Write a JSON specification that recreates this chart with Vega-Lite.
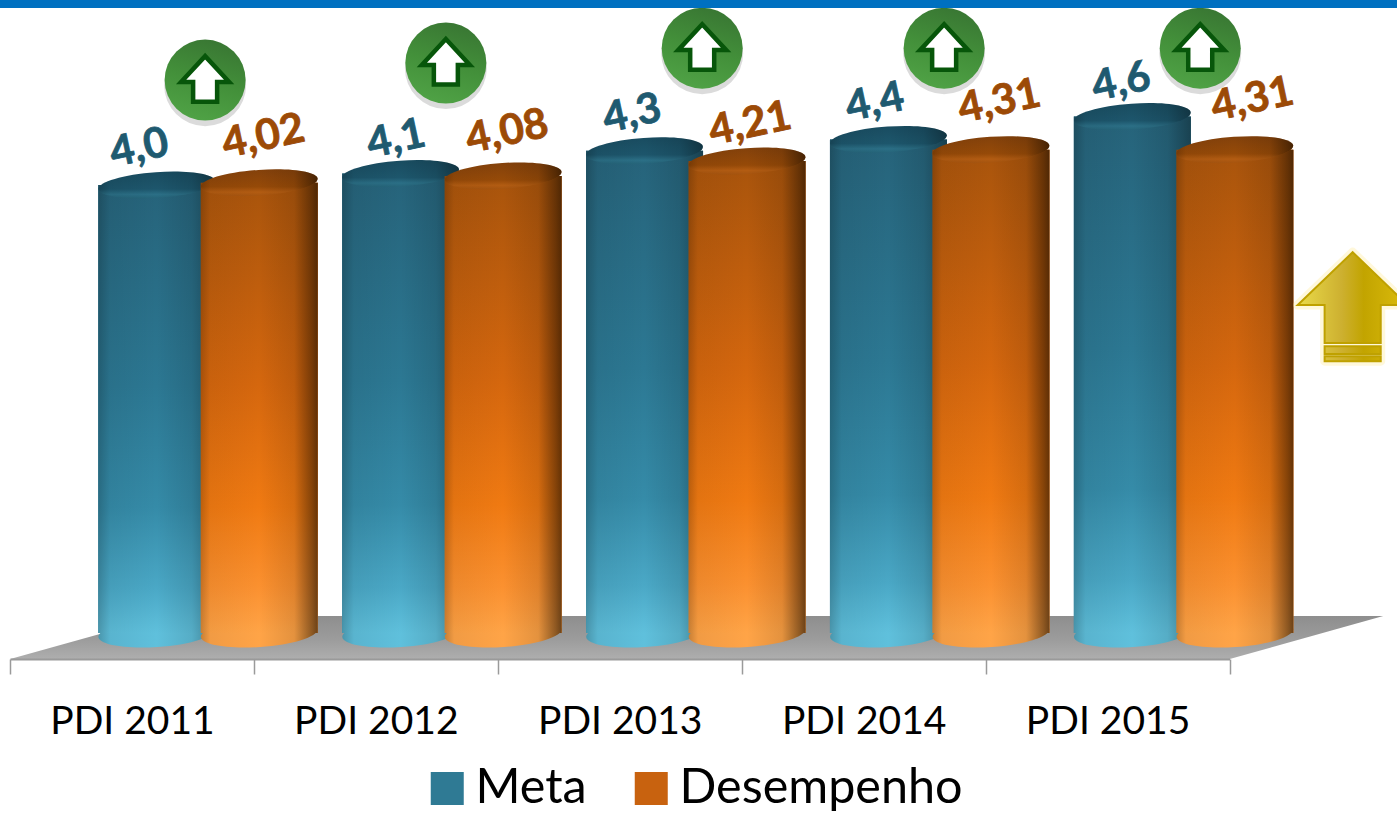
{
"$schema":"https://vega.github.io/schema/vega-lite/v6.json",
"width":1397,"height":813,"padding":0,"autosize":{"type":"none"},"background":"white",
"config":{"view":{"stroke":null},"font":"Lato"},
"datasets":{
"valores":[
{"ano":"PDI 2011","serie":"Meta","valor":4.0,"rotulo":"4,0"},
{"ano":"PDI 2012","serie":"Meta","valor":4.1,"rotulo":"4,1"},
{"ano":"PDI 2013","serie":"Meta","valor":4.3,"rotulo":"4,3"},
{"ano":"PDI 2014","serie":"Meta","valor":4.4,"rotulo":"4,4"},
{"ano":"PDI 2015","serie":"Meta","valor":4.6,"rotulo":"4,6"},
{"ano":"PDI 2011","serie":"Desempenho","valor":4.02,"rotulo":"4,02"},
{"ano":"PDI 2012","serie":"Desempenho","valor":4.08,"rotulo":"4,08"},
{"ano":"PDI 2013","serie":"Desempenho","valor":4.21,"rotulo":"4,21"},
{"ano":"PDI 2014","serie":"Desempenho","valor":4.31,"rotulo":"4,31"},
{"ano":"PDI 2015","serie":"Desempenho","valor":4.31,"rotulo":"4,31"}
],
"setas":[{"pos":0.8,"nivel":4.92},{"pos":1.787,"nivel":5.07},{"pos":2.838,"nivel":5.2},{"pos":3.83,"nivel":5.2},{"pos":4.88,"nivel":5.2}],
"piso":[{"pos":2.5,"nivel":0}],
"dourada":[{"pos":5.505,"nivel":2.947}],
"base":[
{"ano":"PDI 2011","serie":"Meta"},{"ano":"PDI 2012","serie":"Meta"},{"ano":"PDI 2013","serie":"Meta"},{"ano":"PDI 2014","serie":"Meta"},{"ano":"PDI 2015","serie":"Meta"},
{"ano":"PDI 2011","serie":"Desempenho"},{"ano":"PDI 2012","serie":"Desempenho"},{"ano":"PDI 2013","serie":"Desempenho"},{"ano":"PDI 2014","serie":"Desempenho"},{"ano":"PDI 2015","serie":"Desempenho"}
]
},
"encoding":{"y":{"type":"quantitative","axis":null,"scale":{"domain":[-1.5088,5.6228],"nice":false,"zero":false}}},
"resolve":{"scale":{"x":"independent"},"axis":{"x":"independent"}},
"layer":[
{"data":{"name":"piso"},
 "mark":{"type":"point","filled":true,"opacity":1,"strokeWidth":0,"size":1440000,"shape":"M-0.759,-0.0417L1.2725,-0.0417L1.0167,0.03L-1.0158,0.03Z",
 "fill":{"gradient":"linear","x1":0,"y1":0,"x2":0,"y2":1,"stops":[{"offset":0,"color":"#8e8e8e"},{"offset":0.55,"color":"#9c9c9c"},{"offset":1,"color":"#aeaeae"}]}},
 "encoding":{"x":{"field":"pos","type":"quantitative","axis":null,"scale":{"domain":[0,5],"range":[10,1229.5],"nice":false,"zero":false}},"y":{"field":"nivel","type":"quantitative"}}},
{"data":{"name":"valores"},
 "mark":{"type":"bar","width":117},
 "encoding":{
 "x":{"field":"ano","type":"nominal","title":null,"scale":{"domain":["PDI 2011","PDI 2012","PDI 2013","PDI 2014","PDI 2015"],"range":[10,1229.5],"paddingInner":0,"paddingOuter":0},
  "axis":{"orient":"bottom","offset":-154,"tickBand":"extent","labelAngle":0,"labelFont":"Lato","labelFontSize":39,"labelColor":"#000000","labelPadding":28,"tickSize":15,"tickColor":"#9a9a9a","tickWidth":1.5,"domainColor":"#9a9a9a","domainWidth":2,"grid":false,"zindex":1}},
 "xOffset":{"field":"serie","type":"nominal","scale":{"domain":["Meta","Desempenho"],"range":[95.5,300.5],"paddingInner":0,"paddingOuter":0}},
 "y":{"field":"valor","type":"quantitative"},"y2":{"datum":0.07},
 "color":{"field":"serie","type":"nominal","scale":{"domain":["Meta","Desempenho"],"range":["#2f7a94","#c8620f"]},
  "legend":{"title":null,"orient":"none","legendX":423,"legendY":764,"direction":"horizontal","columns":2,"columnPadding":40,"symbolType":"square","symbolSize":1089,"symbolStrokeWidth":0,"labelFont":"Lato","labelFontSize":48.5,"labelColor":"#000000","labelOffset":4,"labelLimit":500,"symbolOpacity":1}}}},
{"data":{"name":"base"},"transform":[{"filter":"datum.serie=='Meta'"}],
 "mark":{"type":"point","filled":true,"opacity":1,"strokeWidth":0,"size":13689,"shape":"M-0.9976,0.07A1,0.24,-4,1,0,0.9976,-0.07A1,0.24,-4,1,0,-0.9976,0.07Z",
 "fill":{"gradient":"linear","x1":0,"y1":0,"x2":1,"y2":0,"stops":[{"offset":0,"color":"#4a96ac"},{"offset":0.1,"color":"#59b4cf"},{"offset":0.5,"color":"#5fc0dc"},{"offset":0.8,"color":"#56adc6"},{"offset":1,"color":"#3e7d8f"}]}},
 "encoding":{"x":{"field":"ano","type":"nominal","axis":null,"scale":{"domain":["PDI 2011","PDI 2012","PDI 2013","PDI 2014","PDI 2015"],"range":[10,1229.5],"paddingInner":0,"paddingOuter":0}},"xOffset":{"field":"serie","type":"nominal"},"y":{"datum":0.07}}},
{"data":{"name":"valores"},"transform":[{"filter":"datum.serie=='Meta'"}],
 "mark":{"type":"bar","width":117,
 "fill":{"gradient":"linear","x1":0,"y1":0,"x2":0,"y2":1,"stops":[{"offset":0,"color":"#26637a"},{"offset":0.45,"color":"#2c7893"},{"offset":0.72,"color":"#358ba8"},{"offset":0.9,"color":"#4aa8c6"},{"offset":1,"color":"#5fc0dc"}]}},
 "encoding":{"x":{"field":"ano","type":"nominal","axis":null,"scale":{"domain":["PDI 2011","PDI 2012","PDI 2013","PDI 2014","PDI 2015"],"range":[10,1229.5],"paddingInner":0,"paddingOuter":0}},"xOffset":{"field":"serie","type":"nominal"},"y":{"field":"valor","type":"quantitative"},"y2":{"datum":0.07}}},
{"data":{"name":"valores"},"transform":[{"filter":"datum.serie=='Meta'"}],
 "mark":{"type":"bar","width":117,
 "fill":{"gradient":"linear","x1":0,"y1":0,"x2":1,"y2":0,"stops":[{"offset":0,"color":"rgba(0,0,0,0.22)"},{"offset":0.1,"color":"rgba(0,0,0,0.06)"},{"offset":0.5,"color":"rgba(0,0,0,0)"},{"offset":0.8,"color":"rgba(0,0,0,0.1)"},{"offset":1,"color":"rgba(0,0,0,0.35)"}]}},
 "encoding":{"x":{"field":"ano","type":"nominal","axis":null,"scale":{"domain":["PDI 2011","PDI 2012","PDI 2013","PDI 2014","PDI 2015"],"range":[10,1229.5],"paddingInner":0,"paddingOuter":0}},"xOffset":{"field":"serie","type":"nominal"},"y":{"field":"valor","type":"quantitative"},"y2":{"datum":0.07}}},
{"data":{"name":"valores"},"transform":[{"filter":"datum.serie=='Meta'"}],
 "mark":{"type":"point","filled":true,"opacity":1,"strokeWidth":0,"size":13689,"shape":"M-0.9976,0.07A1,0.22,-4,1,1,0.9976,-0.07A1,0.22,-4,1,1,-0.9976,0.07Z",
 "fill":{"gradient":"linear","x1":0,"y1":0,"x2":0,"y2":1,"stops":[{"offset":0,"color":"#194c60"},{"offset":0.65,"color":"#1d566c"},{"offset":0.85,"color":"#2b6f86"},{"offset":1,"color":"#256479"}]}},
 "encoding":{"x":{"field":"ano","type":"nominal","axis":null,"scale":{"domain":["PDI 2011","PDI 2012","PDI 2013","PDI 2014","PDI 2015"],"range":[10,1229.5],"paddingInner":0,"paddingOuter":0}},"xOffset":{"field":"serie","type":"nominal"},"y":{"field":"valor","type":"quantitative"}}},
{"data":{"name":"valores"},"transform":[{"filter":"datum.serie=='Meta'"}],
 "mark":{"type":"point","filled":true,"opacity":1,"strokeWidth":0,"size":13689,"shape":"M-0.9976,0.07A1,0.22,-4,1,1,0.9976,-0.07A1,0.22,-4,1,1,-0.9976,0.07Z",
 "fill":{"gradient":"linear","x1":0,"y1":0,"x2":1,"y2":0,"stops":[{"offset":0,"color":"rgba(0,0,0,0.22)"},{"offset":0.1,"color":"rgba(0,0,0,0.06)"},{"offset":0.5,"color":"rgba(0,0,0,0)"},{"offset":0.8,"color":"rgba(0,0,0,0.1)"},{"offset":1,"color":"rgba(0,0,0,0.35)"}]}},
 "encoding":{"x":{"field":"ano","type":"nominal","axis":null,"scale":{"domain":["PDI 2011","PDI 2012","PDI 2013","PDI 2014","PDI 2015"],"range":[10,1229.5],"paddingInner":0,"paddingOuter":0}},"xOffset":{"field":"serie","type":"nominal"},"y":{"field":"valor","type":"quantitative"}}},
{"data":{"name":"base"},"transform":[{"filter":"datum.serie=='Desempenho'"}],
 "mark":{"type":"point","filled":true,"opacity":1,"strokeWidth":0,"size":13689,"shape":"M-0.9976,0.07A1,0.24,-4,1,0,0.9976,-0.07A1,0.24,-4,1,0,-0.9976,0.07Z",
 "fill":{"gradient":"linear","x1":0,"y1":0,"x2":1,"y2":0,"stops":[{"offset":0,"color":"#c77f35"},{"offset":0.08,"color":"#f19b44"},{"offset":0.5,"color":"#ffa447"},{"offset":0.8,"color":"#e4923e"},{"offset":0.95,"color":"#8e5a23"},{"offset":1,"color":"#6d4319"}]}},
 "encoding":{"x":{"field":"ano","type":"nominal","axis":null,"scale":{"domain":["PDI 2011","PDI 2012","PDI 2013","PDI 2014","PDI 2015"],"range":[10,1229.5],"paddingInner":0,"paddingOuter":0}},"xOffset":{"field":"serie","type":"nominal"},"y":{"datum":0.07}}},
{"data":{"name":"valores"},"transform":[{"filter":"datum.serie=='Desempenho'"}],
 "mark":{"type":"bar","width":117,
 "fill":{"gradient":"linear","x1":0,"y1":0,"x2":0,"y2":1,"stops":[{"offset":0,"color":"#a8540c"},{"offset":0.45,"color":"#d5670e"},{"offset":0.72,"color":"#f07a12"},{"offset":0.9,"color":"#fb9130"},{"offset":1,"color":"#ffa447"}]}},
 "encoding":{"x":{"field":"ano","type":"nominal","axis":null,"scale":{"domain":["PDI 2011","PDI 2012","PDI 2013","PDI 2014","PDI 2015"],"range":[10,1229.5],"paddingInner":0,"paddingOuter":0}},"xOffset":{"field":"serie","type":"nominal"},"y":{"field":"valor","type":"quantitative"},"y2":{"datum":0.07}}},
{"data":{"name":"valores"},"transform":[{"filter":"datum.serie=='Desempenho'"}],
 "mark":{"type":"bar","width":117,
 "fill":{"gradient":"linear","x1":0,"y1":0,"x2":1,"y2":0,"stops":[{"offset":0,"color":"rgba(30,15,0,0.25)"},{"offset":0.08,"color":"rgba(30,15,0,0.06)"},{"offset":0.5,"color":"rgba(30,15,0,0)"},{"offset":0.8,"color":"rgba(30,15,0,0.12)"},{"offset":0.95,"color":"rgba(30,15,0,0.5)"},{"offset":1,"color":"rgba(30,15,0,0.65)"}]}},
 "encoding":{"x":{"field":"ano","type":"nominal","axis":null,"scale":{"domain":["PDI 2011","PDI 2012","PDI 2013","PDI 2014","PDI 2015"],"range":[10,1229.5],"paddingInner":0,"paddingOuter":0}},"xOffset":{"field":"serie","type":"nominal"},"y":{"field":"valor","type":"quantitative"},"y2":{"datum":0.07}}},
{"data":{"name":"valores"},"transform":[{"filter":"datum.serie=='Desempenho'"}],
 "mark":{"type":"point","filled":true,"opacity":1,"strokeWidth":0,"size":13689,"shape":"M-0.9976,0.07A1,0.22,-4,1,1,0.9976,-0.07A1,0.22,-4,1,1,-0.9976,0.07Z",
 "fill":{"gradient":"linear","x1":0,"y1":0,"x2":0,"y2":1,"stops":[{"offset":0,"color":"#83410b"},{"offset":0.65,"color":"#964a08"},{"offset":0.85,"color":"#b35c12"},{"offset":1,"color":"#a5540f"}]}},
 "encoding":{"x":{"field":"ano","type":"nominal","axis":null,"scale":{"domain":["PDI 2011","PDI 2012","PDI 2013","PDI 2014","PDI 2015"],"range":[10,1229.5],"paddingInner":0,"paddingOuter":0}},"xOffset":{"field":"serie","type":"nominal"},"y":{"field":"valor","type":"quantitative"}}},
{"data":{"name":"valores"},"transform":[{"filter":"datum.serie=='Desempenho'"}],
 "mark":{"type":"point","filled":true,"opacity":1,"strokeWidth":0,"size":13689,"shape":"M-0.9976,0.07A1,0.22,-4,1,1,0.9976,-0.07A1,0.22,-4,1,1,-0.9976,0.07Z",
 "fill":{"gradient":"linear","x1":0,"y1":0,"x2":1,"y2":0,"stops":[{"offset":0,"color":"rgba(30,15,0,0.25)"},{"offset":0.08,"color":"rgba(30,15,0,0.06)"},{"offset":0.5,"color":"rgba(30,15,0,0)"},{"offset":0.8,"color":"rgba(30,15,0,0.12)"},{"offset":0.95,"color":"rgba(30,15,0,0.5)"},{"offset":1,"color":"rgba(30,15,0,0.65)"}]}},
 "encoding":{"x":{"field":"ano","type":"nominal","axis":null,"scale":{"domain":["PDI 2011","PDI 2012","PDI 2013","PDI 2014","PDI 2015"],"range":[10,1229.5],"paddingInner":0,"paddingOuter":0}},"xOffset":{"field":"serie","type":"nominal"},"y":{"field":"valor","type":"quantitative"}}},
{"data":{"name":"valores"},"transform":[{"filter":"datum.serie=='Meta'"}],
 "mark":{"type":"text","font":"Lato","fontWeight":"bold","fontSize":42,"angle":348,"align":"center","baseline":"middle","color":"#1f5a70","stroke":"#1f5a70","strokeWidth":0.8,
  "dx":{"expr":"{'PDI 2011':-9.5,'PDI 2012':2.7,'PDI 2013':-4.5,'PDI 2014':-5.5,'PDI 2015':-3.7}[datum.ano]"},
  "dy":{"expr":"{'PDI 2011':-39.7,'PDI 2012':-34.7,'PDI 2013':-38.7,'PDI 2014':-38.9,'PDI 2015':-36}[datum.ano]"}},
 "encoding":{"x":{"field":"ano","type":"nominal","axis":null,"scale":{"domain":["PDI 2011","PDI 2012","PDI 2013","PDI 2014","PDI 2015"],"range":[10,1229.5],"paddingInner":0,"paddingOuter":0}},"xOffset":{"field":"serie","type":"nominal"},"y":{"field":"valor","type":"quantitative"},"text":{"field":"rotulo"}}},
{"data":{"name":"valores"},"transform":[{"filter":"datum.serie=='Desempenho'"}],
 "mark":{"type":"text","font":"Lato","fontWeight":"bold","fontSize":42,"angle":348,"align":"center","baseline":"middle","color":"#9c4a06","stroke":"#9c4a06","strokeWidth":0.8,
  "dx":{"expr":"{'PDI 2011':13.5,'PDI 2012':13.1,'PDI 2013':10.6,'PDI 2014':18.2,'PDI 2015':27.5}[datum.ano]"},
  "dy":{"expr":"{'PDI 2011':-44.2,'PDI 2012':-42.2,'PDI 2013':-35.6,'PDI 2014':-45.2,'PDI 2015':-45.3}[datum.ano]"}},
 "encoding":{"x":{"field":"ano","type":"nominal","axis":null,"scale":{"domain":["PDI 2011","PDI 2012","PDI 2013","PDI 2014","PDI 2015"],"range":[10,1229.5],"paddingInner":0,"paddingOuter":0}},"xOffset":{"field":"serie","type":"nominal"},"y":{"field":"valor","type":"quantitative"},"text":{"field":"rotulo"}}},
{"data":{"name":"setas"},
 "mark":{"type":"point","shape":"circle","filled":true,"opacity":0.14,"strokeWidth":0,"size":6724,"color":"#000000","yOffset":5},
 "encoding":{"x":{"field":"pos","type":"quantitative","axis":null,"scale":{"domain":[0,5],"range":[10,1229.5],"nice":false,"zero":false}},"y":{"field":"nivel","type":"quantitative"}}},
{"data":{"name":"setas"},
 "mark":{"type":"point","shape":"circle","filled":true,"opacity":1,"strokeWidth":0,"size":6561,
 "fill":{"gradient":"linear","x1":0.6,"y1":0,"x2":0.3,"y2":1,"stops":[{"offset":0,"color":"#397733"},{"offset":0.5,"color":"#43903a"},{"offset":1,"color":"#50a346"}]}},
 "encoding":{"x":{"field":"pos","type":"quantitative","axis":null,"scale":{"domain":[0,5],"range":[10,1229.5],"nice":false,"zero":false}},"y":{"field":"nivel","type":"quantitative"}}},
{"data":{"name":"setas"},
 "mark":{"type":"point","filled":true,"opacity":1,"fill":"#ffffff","stroke":"#07560a","strokeWidth":4.5,"size":2304,"shape":"M0,-1L1,0.08L0.5,0.08L0.5,0.9L-0.5,0.9L-0.5,0.08L-1,0.08Z"},
 "encoding":{"x":{"field":"pos","type":"quantitative","axis":null,"scale":{"domain":[0,5],"range":[10,1229.5],"nice":false,"zero":false}},"y":{"field":"nivel","type":"quantitative"}}},
{"data":{"name":"dourada"},
 "mark":{"type":"point","filled":true,"opacity":0.3,"fill":"#ffe98a","stroke":"#ffe98a","strokeWidth":9,"strokeJoin":"round","size":12100,"shape":"M0,-0.96L1,0L0.51,0L0.51,1.02L-0.51,1.02L-0.51,0L-1,0Z"},
 "encoding":{"x":{"field":"pos","type":"quantitative","axis":null,"scale":{"domain":[0,5],"range":[10,1229.5],"nice":false,"zero":false}},"y":{"field":"nivel","type":"quantitative"}}},
{"data":{"name":"dourada"},
 "mark":{"type":"point","filled":true,"opacity":1,"stroke":"#bfa100","strokeWidth":2,"size":12100,"shape":"M0,-0.96L1,0L0.51,0L0.51,0.69L-0.51,0.69L-0.51,0L-1,0ZM-0.51,0.75L0.51,0.75L0.51,0.89L-0.51,0.89ZM-0.51,0.93L0.51,0.93L0.51,1.02L-0.51,1.02Z",
 "fill":{"gradient":"linear","x1":0,"y1":0,"x2":1,"y2":0,"stops":[{"offset":0,"color":"#eadb4a"},{"offset":0.4,"color":"#cdb030"},{"offset":0.6,"color":"#c2a400"},{"offset":1,"color":"#dcbc0c"}]}},
 "encoding":{"x":{"field":"pos","type":"quantitative","axis":null,"scale":{"domain":[0,5],"range":[10,1229.5],"nice":false,"zero":false}},"y":{"field":"nivel","type":"quantitative"}}},
{"data":{"name":"piso"},
 "mark":{"type":"rule","color":"#0070c0","strokeWidth":16},
 "encoding":{"y":{"datum":5.6228}}}
]
}
